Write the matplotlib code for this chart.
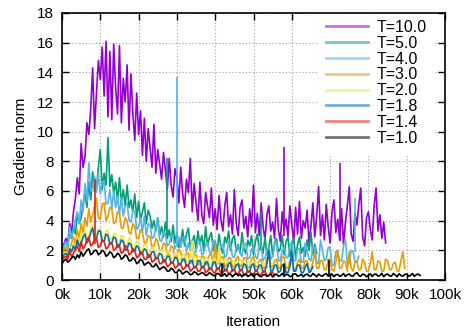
import numpy as np
import matplotlib
matplotlib.use("Agg")
import matplotlib.pyplot as plt

plt.rcParams['font.family'] = ['Liberation Sans', 'DejaVu Sans']

labels = ["T=10.0", "T=5.0", "T=4.0", "T=3.0", "T=2.0", "T=1.8", "T=1.4", "T=1.0"]
colors = ["#9400d3", "#009e73", "#56b4e9", "#e69f00",
          "#f0e442", "#0072b2", "#e51e10", "black"]

step = 500  # one value per 0.5k iterations

t10 = [2.0, 2.4, 2.8, 2.5, 3.8, 3.2, 4.6, 5.5, 6.9, 5.8,
       9.2, 7.6, 8.3, 10.6, 9.8, 11.5, 14.3, 10.2, 12.6, 14.8,
       13.5, 15.7, 12.4, 16.1, 11.0, 15.4, 10.8, 15.9, 13.0, 11.2,
       15.8, 10.6, 13.6, 12.0, 14.5, 10.1, 13.9, 11.2, 9.4, 12.6,
       9.8, 11.4, 8.4, 10.9, 8.0, 10.2, 8.9, 7.6, 10.5, 7.2,
       8.8, 7.8, 6.8, 8.6, 7.4, 6.1, 8.2, 6.4, 5.6, 7.5,
       6.9, 5.2, 7.6, 5.8, 4.9, 6.8, 5.9, 8.2, 4.6, 6.5,
       5.2, 4.0, 6.6, 4.4, 3.8, 5.9, 5.0, 4.2, 6.2, 3.7,
       4.8, 3.4, 5.7, 4.1, 3.3, 5.0, 5.9, 3.6, 4.4, 3.1,
       6.1, 3.8, 3.0, 4.9, 5.4, 3.5, 4.3, 2.9, 4.8, 3.6,
       6.4, 3.2, 4.5, 3.0, 5.2, 3.6, 2.7, 4.4, 5.0, 3.3,
       3.9, 2.8, 5.5, 3.4, 2.6, 4.6, 3.4, 4.1, 2.9, 5.0,
       3.7, 2.6, 4.9, 3.1, 5.3, 2.8, 4.0, 3.5, 4.7, 2.5,
       3.6, 5.2, 2.9, 4.3, 6.3, 3.0, 4.4, 2.7, 5.1, 3.6,
       2.5, 4.6, 5.4, 3.2, 4.1, 2.7, 4.8, 2.4, 3.9, 5.0,
       6.3, 3.1, 2.6, 4.5, 3.7, 5.1, 6.2, 2.9, 2.3, 4.2,
       4.6, 3.4, 2.7, 5.0, 6.2, 3.3, 4.4, 2.8, 3.9, 2.5]
t5 = [1.9, 2.3, 2.6, 2.2, 3.3, 2.8, 3.6, 3.1, 4.5, 3.8,
      4.2, 5.1, 5.8, 4.9, 6.6, 5.4, 7.3, 6.0, 6.2, 7.6,
      8.8, 6.1, 7.2, 6.4, 9.6, 6.3, 7.1, 5.8, 6.6, 5.4,
      6.9, 5.2, 6.1, 5.0, 6.4, 4.9, 5.4, 4.6, 5.8, 4.2,
      5.3, 4.0, 4.6, 5.2, 3.8, 4.7, 4.3, 3.5, 4.0, 3.3,
      4.2, 3.0, 3.6, 2.9, 3.9, 2.8, 3.4, 2.6, 3.7, 2.5,
      3.2, 2.2, 2.6, 3.4, 2.3, 3.1, 3.5, 2.2, 2.6, 3.0,
      2.1, 3.3, 2.4, 3.0, 2.0, 3.6, 2.3, 2.9, 3.2, 2.0,
      2.6, 1.9, 3.1, 2.2, 1.8, 2.9, 2.5, 3.3, 2.0, 2.8,
      3.0, 1.9, 2.4, 1.8, 3.2, 2.1, 1.8, 2.7, 2.3, 3.0,
      1.7, 2.6, 3.1, 2.0, 2.4, 1.8, 2.9, 1.7, 2.2, 3.0,
      1.6, 2.5, 2.8, 1.9, 2.1, 3.0, 1.7, 2.6, 2.9, 1.6,
      2.3, 2.8, 1.5, 2.4, 2.9, 1.8, 2.2, 1.6, 2.7, 2.0,
      3.2, 1.7, 2.4, 1.8]
t4 = [1.8, 2.2, 2.6, 2.1, 3.6, 2.9, 3.3, 4.1, 4.6, 3.8,
      5.4, 4.6, 6.5, 5.3, 7.9, 6.0, 6.2, 7.0, 5.9, 7.2,
      5.8, 6.6, 6.7, 5.1, 5.2, 6.1, 4.8, 6.0, 4.9, 5.6,
      4.4, 5.6, 4.3, 5.0, 5.2, 4.0, 3.9, 4.7, 4.6, 3.4,
      3.6, 4.2, 3.2, 4.3, 3.0, 3.8, 3.7, 2.8, 2.9, 3.5,
      4.2, 2.7, 2.6, 3.3, 3.1, 2.3, 2.4, 3.0, 2.9, 2.1,
      2.4, 2.9, 2.2, 2.8, 2.9, 1.9, 2.5, 2.0, 2.7, 1.8,
      1.9, 2.6, 2.6, 1.7, 1.8, 2.4, 2.5, 1.9, 1.7, 2.7,
      2.5, 1.6, 1.9, 2.3, 2.4, 1.5, 1.7, 2.6, 2.4, 1.6,
      1.5, 2.2, 2.3, 1.8, 1.6, 2.5, 2.4, 1.4, 1.5, 2.1,
      2.2, 1.6, 1.4, 2.4, 2.3, 1.3, 1.5, 2.0, 2.2, 1.4,
      1.6, 2.4, 2.6, 1.3, 1.3, 2.0, 2.2, 1.5, 1.5, 2.3,
      2.6, 1.3, 1.3, 2.1, 2.1, 1.2, 1.2, 2.5, 2.0, 1.4,
      1.3, 2.2, 2.2, 1.2, 1.1, 2.7, 2.0, 1.3, 1.4, 2.2,
      2.2, 1.0, 1.0, 1.9, 1.9, 1.3, 1.3, 2.3, 2.7, 1.1,
      1.1, 2.0, 1.9, 1.2, 1.2, 1.6]
t3 = [1.7, 2.0, 2.2, 1.8, 2.1, 2.5, 2.9, 2.4, 3.4, 2.8,
      3.8, 3.2, 4.2, 3.6, 4.8, 3.9, 4.4, 5.0, 5.5, 4.2,
      4.1, 5.1, 5.2, 4.0, 4.3, 4.9, 4.8, 3.8, 3.9, 4.6,
      4.5, 3.5, 3.5, 4.2, 4.0, 3.2, 3.1, 3.8, 3.6, 2.8,
      2.8, 3.4, 3.2, 2.5, 2.5, 3.0, 2.9, 2.2, 2.3, 2.8,
      2.6, 2.0, 2.0, 2.5, 2.4, 1.7, 1.8, 2.3, 2.2, 1.5,
      1.6, 2.1, 1.9, 1.3, 1.3, 1.8, 1.8, 1.1, 1.2, 1.7,
      1.7, 1.0, 1.1, 1.6, 1.6, 1.0, 1.2, 1.7, 1.7, 1.0,
      2.4, 1.1, 1.1, 1.5, 1.6, 0.9, 1.0, 1.5, 1.5, 0.9,
      0.9, 1.4, 1.6, 0.9, 1.0, 1.5, 1.5, 0.8, 0.9, 1.4,
      1.6, 0.9, 0.9, 1.3, 1.4, 0.8, 0.8, 1.5, 1.5, 0.9,
      0.9, 1.3, 1.4, 0.8, 0.8, 1.6, 1.5, 0.8, 0.8, 1.3,
      1.4, 0.7, 0.7, 1.2, 1.4, 0.8, 0.8, 1.3, 1.3, 0.7,
      0.7, 1.2, 1.9, 0.8, 0.8, 1.3, 1.3, 0.7, 0.7, 1.4,
      1.4, 0.7, 0.6, 1.2, 2.0, 0.8, 0.8, 1.3, 1.2, 0.6,
      1.9, 0.8, 0.6, 1.2, 1.3, 0.7, 0.7, 1.4, 1.2, 0.6,
      0.6, 1.1, 1.9, 0.7, 0.7, 1.3, 1.2, 0.6, 0.6, 1.4,
      1.3, 0.7, 0.7, 1.1, 1.2, 0.6, 0.6, 1.3, 1.9, 0.8]
t2 = [1.5, 1.8, 1.9, 1.7, 2.2, 2.0, 2.5, 2.3, 2.9, 2.6,
      3.1, 2.7, 3.4, 2.9, 3.0, 3.5, 3.7, 3.0, 3.1, 3.4,
      3.5, 2.8, 2.9, 3.3, 3.3, 2.7, 2.8, 3.1, 3.1, 2.6,
      2.6, 3.0, 2.9, 2.3, 2.4, 2.8, 2.7, 2.1, 2.2, 2.6,
      2.5, 1.9, 2.0, 2.4, 2.3, 1.8, 1.9, 2.2, 2.1, 1.6,
      1.7, 2.0, 2.0, 1.5, 1.6, 1.9, 1.9, 1.4, 1.5, 1.8,
      1.8, 1.3, 1.4, 1.7, 1.7, 1.2, 1.3, 1.6, 2.6, 1.2,
      1.3, 1.6, 1.6, 1.1, 1.2, 1.5, 1.5, 1.0, 1.1, 1.4,
      1.4, 1.0, 2.2, 1.1, 1.1, 1.4, 1.4, 0.9, 1.0, 1.3,
      1.3, 0.9, 1.0, 1.3, 1.3, 0.8, 0.9, 1.2, 1.2, 0.8,
      0.9, 1.2, 1.2, 0.8, 0.8, 1.1, 1.1, 0.8, 0.9, 1.1,
      1.1, 0.8]
t18 = [1.4, 1.7, 1.8, 1.6, 2.1, 1.9, 2.3, 2.0, 2.7, 2.3,
       2.5, 2.9, 3.1, 2.5, 2.7, 3.2, 3.5, 2.7, 2.8, 3.3,
       3.3, 2.6, 2.6, 3.1, 3.0, 2.4, 2.5, 2.9, 2.8, 2.2,
       2.3, 2.7, 2.6, 2.0, 2.1, 2.5, 2.4, 1.9, 2.0, 2.3,
       2.2, 1.7, 1.8, 2.1, 2.0, 1.5, 1.6, 1.9, 1.9, 1.4,
       1.5, 1.8, 1.7, 1.2, 1.3, 1.6, 1.6, 1.1, 1.2, 1.5,
       1.5, 1.0, 1.1, 1.4, 1.4, 0.9, 1.0, 1.3, 1.3, 0.8,
       0.9, 1.3, 1.3, 0.8, 0.9, 1.2, 1.2, 0.7, 0.8, 1.2,
       1.2, 0.7, 0.8, 1.1, 1.1, 0.6, 0.7, 1.1, 1.2, 0.6,
       0.7, 1.0, 1.1, 0.6, 0.7, 1.1, 1.0, 0.5, 0.6, 1.0,
       1.1, 0.6, 0.7, 1.0, 1.0, 0.5, 0.6, 1.1, 2.0, 0.6,
       0.6, 1.0, 1.0, 0.5, 0.6, 1.0, 1.1, 0.5, 0.5, 0.9,
       1.9, 0.6, 0.6, 1.0, 1.0, 0.5, 0.5, 0.9, 1.1, 0.5,
       0.6, 0.9]
t14 = [1.3, 1.5, 1.6, 1.4, 1.9, 1.6, 1.8, 2.1, 2.3, 1.9,
       2.6, 2.1, 2.3, 2.7, 2.9, 2.3, 2.4, 2.8, 2.8, 2.2,
       2.3, 2.7, 2.6, 2.1, 2.2, 2.5, 2.5, 2.0, 2.1, 2.4,
       2.3, 1.8, 1.9, 2.3, 2.2, 1.7, 1.8, 2.1, 2.0, 1.5,
       1.6, 1.9, 1.8, 1.4, 1.4, 1.7, 1.7, 1.2, 1.3, 1.5,
       1.5, 1.1, 1.1, 1.4, 1.3, 0.9, 1.0, 1.2, 1.2, 0.8,
       0.9, 1.1, 1.1, 0.7, 0.8, 1.0, 1.0, 0.6, 0.7, 0.9,
       0.9, 0.6, 0.6, 0.9, 0.9, 0.5, 0.6, 0.8, 0.8, 0.5,
       0.5, 0.8, 0.8, 0.4, 0.5, 0.7, 0.7, 0.4, 0.5, 0.7,
       0.7, 0.4, 0.4, 0.7, 0.7, 0.3, 0.4, 0.6, 0.6, 0.3,
       0.4, 0.6, 0.6, 0.3, 0.4, 0.6, 0.6, 0.3, 0.3, 0.5,
       0.5, 0.3]
t1 = [1.1, 1.3, 1.4, 1.2, 1.3, 1.5, 1.6, 1.4, 1.7, 1.5,
      1.9, 1.6, 1.8, 2.0, 2.1, 1.7, 1.8, 2.0, 2.0, 1.7,
      1.8, 2.0, 1.9, 1.6, 1.7, 1.9, 1.8, 1.5, 1.6, 1.8,
      1.7, 1.4, 1.5, 1.7, 1.6, 1.3, 1.3, 1.5, 1.4, 1.1,
      1.2, 1.4, 1.3, 1.0, 1.1, 1.2, 1.1, 0.9, 0.9, 1.1,
      0.9, 0.7, 0.8, 0.9, 0.8, 0.6, 0.6, 0.8, 0.7, 0.5,
      0.5, 0.7, 0.6, 0.4, 0.5, 0.6, 0.5, 0.35, 0.4, 0.55,
      0.5, 0.35, 0.4, 0.5, 0.45, 0.3, 0.35, 0.5, 0.4, 0.3,
      0.3, 0.45, 0.4, 0.25, 0.3, 0.42, 0.25, 0.38, 0.4, 0.22,
      0.35, 0.45, 0.28, 0.4, 0.22, 0.36, 0.4, 0.25, 0.3, 0.44,
      0.24, 0.38, 0.4, 0.28, 0.22, 0.35, 0.38, 0.25, 0.3, 0.42,
      0.2, 0.36, 0.4, 0.26, 0.3, 0.45, 0.24, 0.38, 0.36, 0.22,
      0.28, 0.4, 0.42, 0.25, 0.3, 0.38, 0.22, 0.35, 0.4, 0.28,
      0.26, 0.44, 0.34, 0.22, 0.4, 0.3, 0.25, 0.38, 0.42, 0.26,
      0.3, 0.4, 0.22, 0.35, 0.38, 0.25, 0.3, 0.44, 0.24, 0.36,
      0.4, 0.28, 0.26, 0.42, 0.5, 0.3, 0.25, 0.4, 0.36, 0.22,
      0.3, 0.42, 0.24, 0.38, 0.4, 0.26, 0.3, 0.45, 0.22, 0.36,
      0.4, 0.28, 0.26, 0.44, 0.34, 0.22, 0.42, 0.3, 0.25, 0.38,
      0.4, 0.26, 0.3, 0.44, 0.24, 0.36, 0.4, 0.3]

# isolated spikes: (iteration, from, to)
spikes = {
    "T=10.0": [(58000, 3.0, 9.0), (72600, 2.6, 7.9)],
    "T=5.0": [(27500, 3.0, 8.2), (52000, 2.0, 4.6)],
    "T=4.0": [(30100, 2.3, 13.7), (76400, 1.9, 5.5)],
    "T=1.4": [(8600, 2.4, 6.8)],
    "T=1.0": [(41800, 0.3, 1.1), (58000, 0.3, 1.1), (69700, 0.3, 1.35)],
}

series = [t10, t5, t4, t3, t2, t18, t14, t1]

xticks = list(range(0, 100001, 10000))
xlabels = ["%dk" % (t // 1000) for t in xticks]

fig = plt.figure(figsize=(4.65, 3.28), dpi=100)
ax = fig.add_axes([62 / 465, 1 - 280 / 328, 383 / 465, 267 / 328])

for z, (lab, col, vals) in enumerate(zip(labels, colors, series)):
    x = np.arange(len(vals)) * step
    zo = 2.0 + z * 0.04
    ax.plot(x, vals, color=col, lw=1.2, label=lab, zorder=zo)
    for it, lo, hi in spikes.get(lab, []):
        ax.vlines(it, lo, hi, color=col, lw=1.2, zorder=zo)

ax.set_xlim(0, 100000)
ax.set_ylim(0, 18)
ax.set_xticks(xticks, xlabels)
ax.set_yticks(range(0, 19, 2))
ax.tick_params(direction='in', length=5, width=1, top=True, right=True,
               labelsize=11, pad=6)
ax.grid(True, color='#a0a0a0', linestyle=(0, (1, 2)), lw=0.8)
for s in ax.spines.values():
    s.set_linewidth(1.2)
    s.set_zorder(3)

ax.set_xlabel("Iteration", fontsize=11, labelpad=9)
ax.set_ylabel("Gradient norm", fontsize=11, labelpad=6)

# gnuplot-style key: opaque white box, no border
leg = ax.legend(loc='upper left', frameon=True, fancybox=False,
                facecolor='white', edgecolor='none', framealpha=1,
                fontsize=11.5, handlelength=2.6, handletextpad=0.56,
                labelspacing=0.05, borderpad=0.5, borderaxespad=0,
                bbox_to_anchor=(318 / 465, 1 - 12 / 328),
                bbox_transform=fig.transFigure)
leg.set_zorder(2.45)
for h in leg.get_lines():
    h.set_linewidth(2)
    h.set_alpha(0.55)

fig.savefig("out.png", dpi=100)
